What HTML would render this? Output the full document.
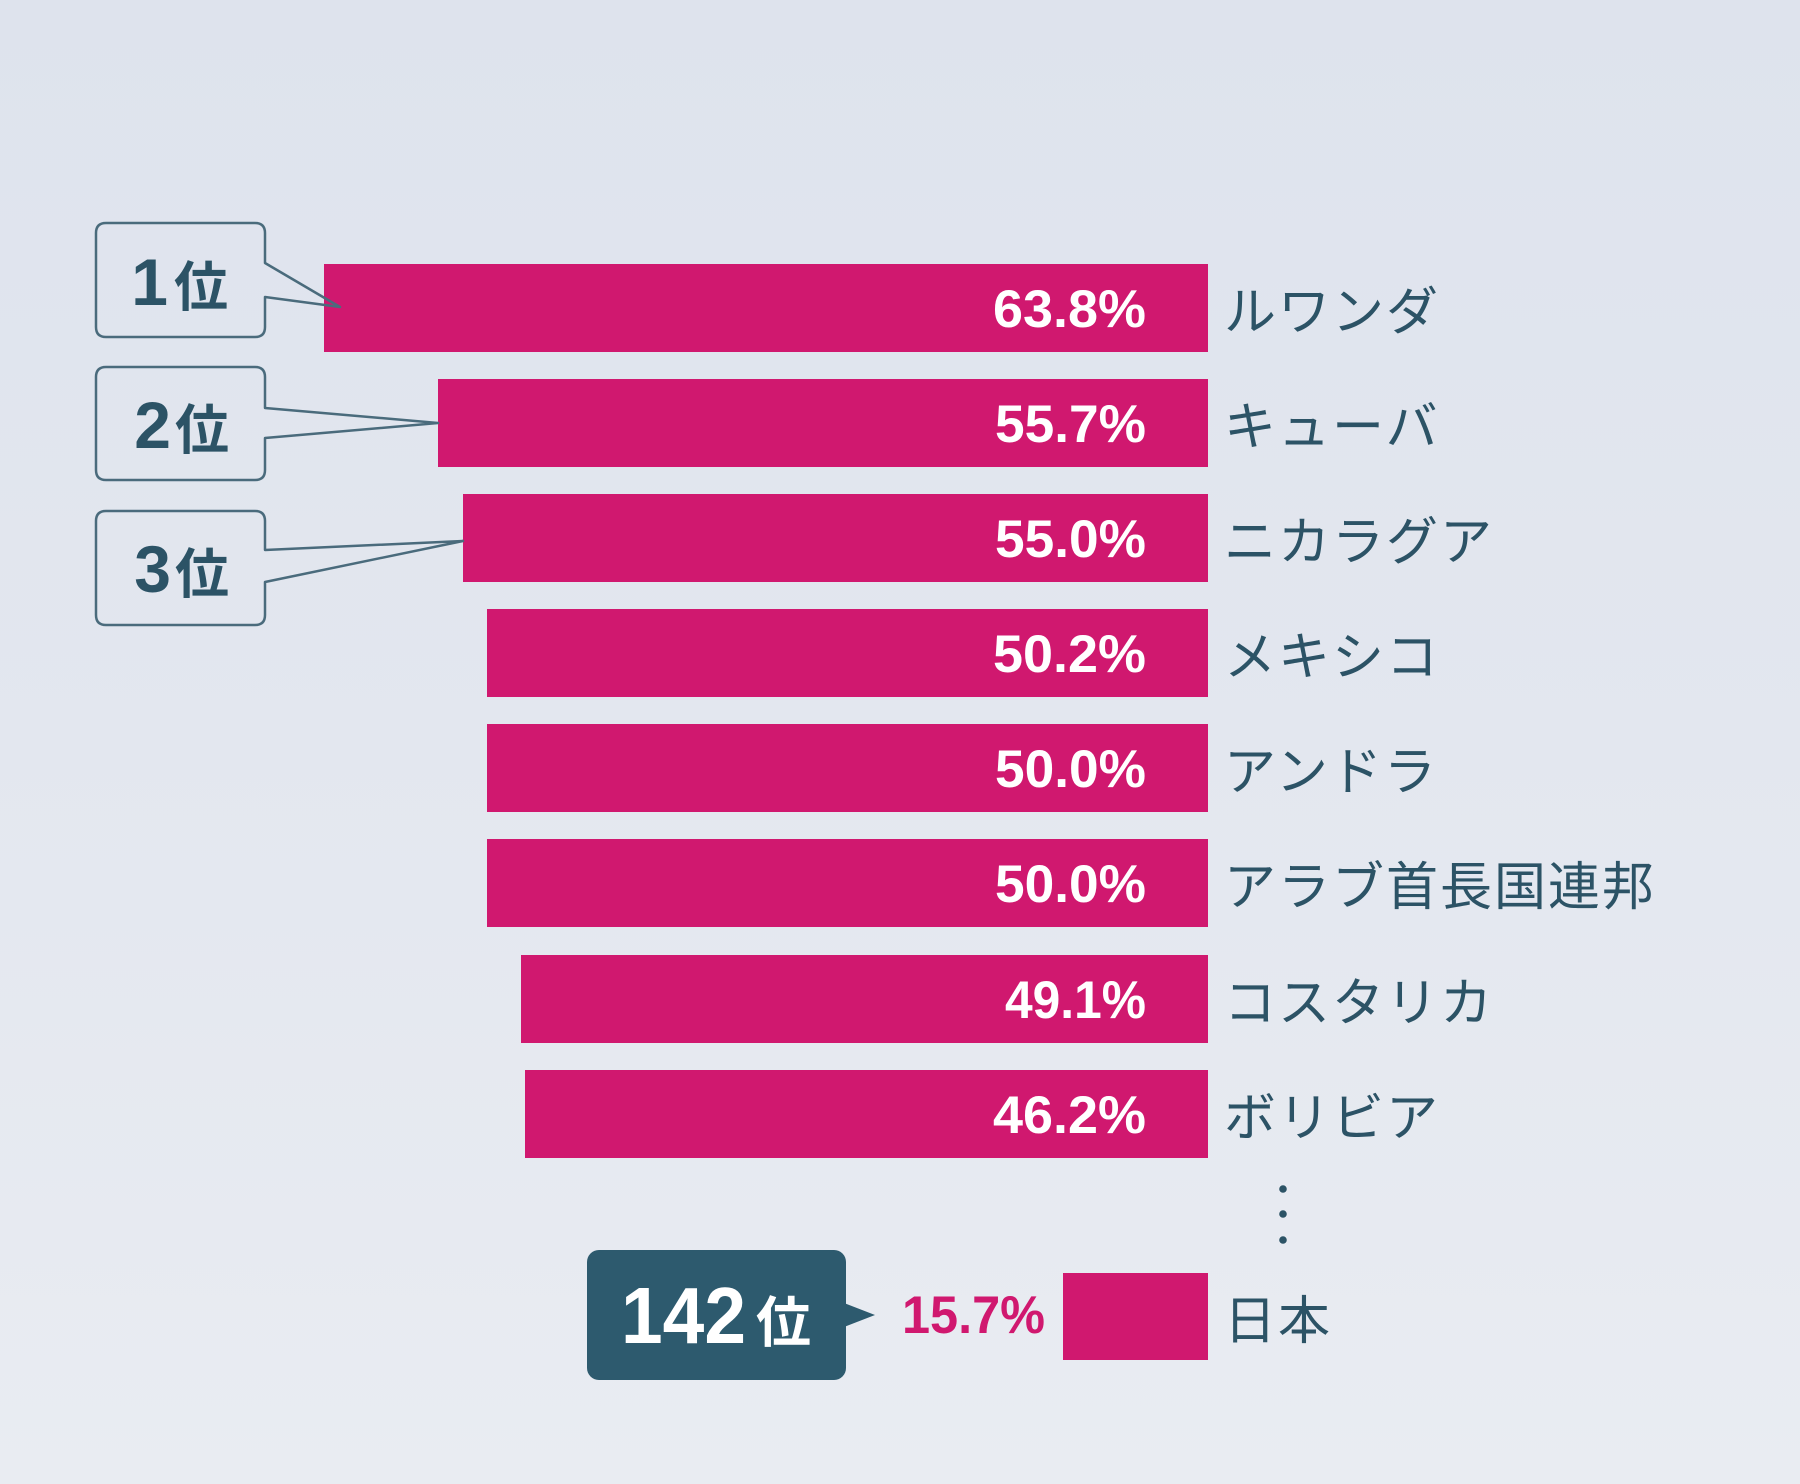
<!DOCTYPE html>
<html><head><meta charset="utf-8"><style>
html,body{margin:0;padding:0;}
body{width:1800px;height:1484px;overflow:hidden;background:linear-gradient(180deg,#dee3ed 0%,#e3e7ef 50%,#e9ecf2 100%);}
svg{display:block;}
.pct{font-family:"Liberation Sans","Noto Sans CJK JP",sans-serif;font-weight:bold;font-size:53px;fill:#ffffff;}
.lbl{font-family:"Liberation Sans","Noto Sans CJK JP",sans-serif;font-size:52px;fill:#2c5366;letter-spacing:2px;}
.rk{font-family:"Liberation Sans","Noto Sans CJK JP",sans-serif;font-weight:bold;fill:#2c5366;}
</style></head><body>
<svg width="1800" height="1484" viewBox="0 0 1800 1484" xmlns="http://www.w3.org/2000/svg">
<g fill="#d0186f">
<rect x="324" y="264" width="884" height="88"/>
<rect x="438" y="379" width="770" height="88"/>
<rect x="463" y="494" width="745" height="88"/>
<rect x="487" y="609" width="721" height="88"/>
<rect x="487" y="724" width="721" height="88"/>
<rect x="487" y="839" width="721" height="88"/>
<rect x="521" y="955" width="687" height="88"/>
<rect x="525" y="1070" width="683" height="88"/>
<rect x="1063" y="1273" width="145" height="87"/>
</g>
<g class="pct">
<text x="993" y="327" textLength="153" lengthAdjust="spacingAndGlyphs">63.8%</text>
<text x="995" y="442" textLength="151" lengthAdjust="spacingAndGlyphs">55.7%</text>
<text x="995" y="557" textLength="151" lengthAdjust="spacingAndGlyphs">55.0%</text>
<text x="993" y="672" textLength="153" lengthAdjust="spacingAndGlyphs">50.2%</text>
<text x="995" y="787" textLength="151" lengthAdjust="spacingAndGlyphs">50.0%</text>
<text x="995" y="902" textLength="151" lengthAdjust="spacingAndGlyphs">50.0%</text>
<text x="1005" y="1018" textLength="141" lengthAdjust="spacingAndGlyphs">49.1%</text>
<text x="993" y="1133" textLength="153" lengthAdjust="spacingAndGlyphs">46.2%</text>
</g>
<g class="lbl">
<text x="1224" y="330">ルワンダ</text>
<text x="1224" y="445">キューバ</text>
<text x="1224" y="560">ニカラグア</text>
<text x="1224" y="675">メキシコ</text>
<text x="1224" y="790">アンドラ</text>
<text x="1224" y="905">アラブ首長国連邦</text>
<text x="1224" y="1021">コスタリカ</text>
<text x="1224" y="1136">ボリビア</text>
<text x="1224" y="1339">日本</text>
</g>
<!-- rank callouts -->
<g fill="none" stroke="#4a6b7c" stroke-width="2.5" stroke-linejoin="round">
<path d="M265,263 L265,233 Q265,223 255,223 L106,223 Q96,223 96,233 L96,327 Q96,337 106,337 L255,337 Q265,337 265,327 L265,297 L340,307 Z"/>
<path d="M265,408 L265,377 Q265,367 255,367 L106,367 Q96,367 96,377 L96,470 Q96,480 106,480 L255,480 Q265,480 265,470 L265,438 L438,423 Z"/>
<path d="M265,550 L265,521 Q265,511 255,511 L106,511 Q96,511 96,521 L96,615 Q96,625 106,625 L255,625 Q265,625 265,615 L265,582 L463,541 Z"/>
</g>
<g class="rk">
<text x="168" y="305" font-size="66" text-anchor="end">1</text>
<text x="174" y="306" font-size="54">位</text>
<text x="171" y="448" font-size="66" text-anchor="end">2</text>
<text x="175" y="449" font-size="54">位</text>
<text x="171" y="592" font-size="66" text-anchor="end">3</text>
<text x="175" y="593" font-size="54">位</text>
</g>
<!-- dots -->
<g fill="#2c5366">
<circle cx="1283" cy="1189" r="3.8"/>
<circle cx="1283" cy="1214" r="3.8"/>
<circle cx="1283" cy="1240" r="3.8"/>
</g>
<!-- 142位 -->
<rect x="587" y="1250" width="259" height="130" rx="12" ry="12" fill="#2d5a6e"/>
<polygon points="844,1303 875,1315 844,1327" fill="#2d5a6e"/>
<text x="621" y="1343" font-family="Liberation Sans, sans-serif" font-weight="bold" font-size="80" fill="#ffffff" textLength="125" lengthAdjust="spacingAndGlyphs">142</text>
<text x="756" y="1342" font-family="Liberation Sans, Noto Sans CJK JP, sans-serif" font-weight="bold" font-size="55" fill="#ffffff">位</text>
<text x="902" y="1333" font-family="Liberation Sans, sans-serif" font-weight="bold" font-size="53" fill="#d0186f" textLength="143" lengthAdjust="spacingAndGlyphs">15.7%</text>
</svg>
</body></html>
